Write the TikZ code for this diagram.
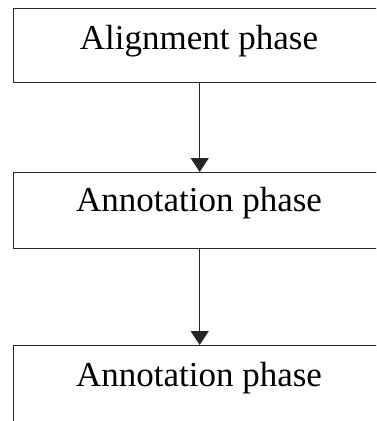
\documentclass[tikz,border=0pt]{standalone}
\usepackage{fontspec}
\setmainfont{Liberation Serif}
\usetikzlibrary{arrows.meta}
\begin{document}
\begin{tikzpicture}[x=1pt,y=-1pt,
  box/.style={draw=black!85,line width=1.4pt,rectangle,inner sep=0pt,anchor=north west},
  lbl/.style={anchor=base,inner sep=0pt,font=\fontsize{35}{42}\selectfont},
  flow/.style={draw=black!85,line width=1.3pt,-{Triangle[width=18pt,length=14pt]}}]
\useasboundingbox (0,0) rectangle (376,421);
\clip (0,0) rectangle (376,421);
\node[box,minimum width=372pt,minimum height=74pt] (b1) at (13,8) {};
\node[box,minimum width=372pt,minimum height=76pt] (b2) at (13,172) {};
\node[box,minimum width=372pt,minimum height=90pt] (b3) at (13,345) {};
\node[lbl] (t1) at (199,49) {Alignment phase};
\node[lbl] (t2) at (199,211) {Annotation phase};
\node[lbl] (t3) at (199,386) {Annotation phase};
\draw[flow] (b1.south) -- (b2.north);
\draw[flow] (b2.south) -- (b3.north);
\end{tikzpicture}
\end{document}
